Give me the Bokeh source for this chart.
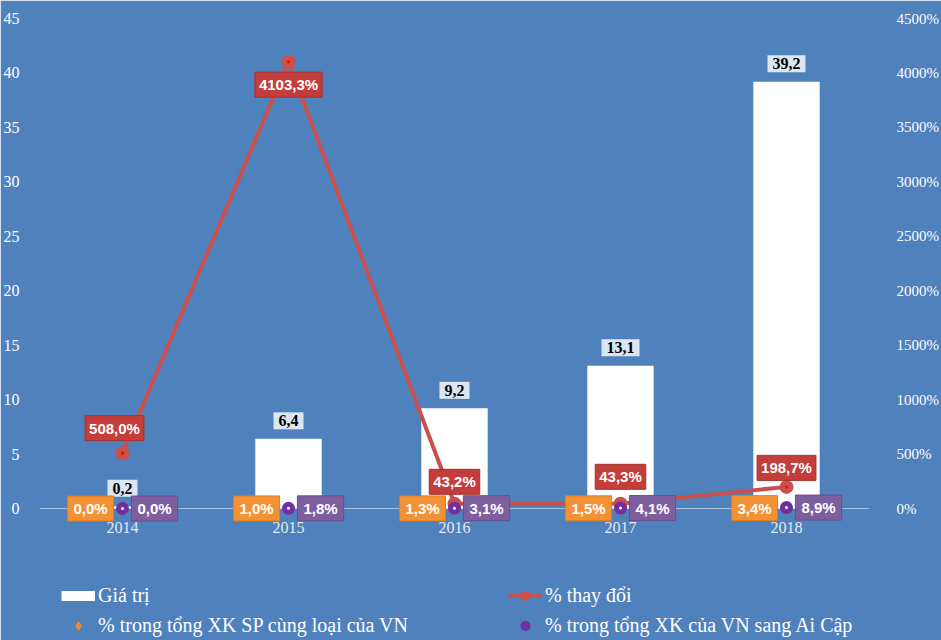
import numpy as np
from bokeh.plotting import figure
from bokeh.models import (ColumnDataSource, Range1d, LinearAxis, FixedTicker,
                          PrintfTickFormatter, Legend, LegendItem, Span)
from bokeh.embed import file_html
from bokeh.resources import INLINE
from bokeh.core.properties import value

# ---------------- data ----------------
years = ["2014", "2015", "2016", "2017", "2018"]
gia_tri = [0.2, 6.4, 9.2, 13.1, 39.2]                 # value (left axis)
thay_doi = [508.0, 4103.3, 43.2, 43.3, 198.7]         # % change (right axis)
pct_cung_loai = [0.0, 1.0, 1.3, 1.5, 3.4]             # % in VN exports of same product
pct_ai_cap = [0.0, 1.8, 3.1, 4.1, 8.9]                # % in VN exports to Egypt
left_ticks = [0, 5, 10, 15, 20, 25, 30, 35, 40, 45]
right_ticks = [0, 500, 1000, 1500, 2000, 2500, 3000, 3500, 4000, 4500]

legend_labels = ["Giá trị", "% thay đổi",
                 "% trong tổng XK SP cùng loại của VN",
                 "% trong tổng XK của VN sang Ai Cập"]


def fmt(v, pct=False):
    return f"{v:.1f}".replace(".", ",") + ("%" if pct else "")


BG = "#4F81BD"
SERIF = "Liberation Serif"
SANS = "Liberation Sans"

# frame spans the full lower part so the legend (inside the frame) is not clipped
p = figure(width=941, height=640, x_range=years, y_range=Range1d(-12.12, 45),
           output_backend="svg", toolbar_location=None,
           min_border_left=38, min_border_right=69, min_border_top=18,
           min_border_bottom=0, background_fill_color=BG,
           border_fill_color=BG, outline_line_color=BG, outline_line_width=2)
p.extra_y_ranges = {"pct": Range1d(-1212, 4500)}

p.xgrid.grid_line_color = None
p.ygrid.grid_line_color = None
p.xaxis.visible = False

ya = p.yaxis[0]
ya.ticker = FixedTicker(ticks=left_ticks)
ya.axis_line_color = None
ya.major_tick_line_color = None
ya.minor_tick_line_color = None
ya.major_label_standoff = 14
ya.major_label_text_font = SERIF
ya.major_label_text_font_size = "16px"
ya.major_label_text_color = "white"

ra = LinearAxis(y_range_name="pct", ticker=FixedTicker(ticks=right_ticks),
                formatter=PrintfTickFormatter(format="%d%%"))
ra.axis_line_color = None
ra.major_tick_line_color = None
ra.minor_tick_line_color = None
ra.major_label_standoff = 21
ra.major_label_text_font = SERIF
ra.major_label_text_font_size = "15px"
ra.major_label_text_color = "white"
p.add_layout(ra, "right")

# zero (category) line
p.add_layout(Span(location=0, dimension="width", line_color="#A9C3E3",
                  line_width=1, level="underlay"))

# category labels under the zero line
p.text(x=years, y=[0] * len(years), text=years, y_offset=19,
       text_align="center", text_baseline="middle", text_font=value(SERIF),
       text_font_size="16px", text_color="#E3E9F1")

# bars
bars = p.vbar(x=years, top=gia_tri, width=0.4, bottom=0,
              fill_color="white", line_color=None)
# legend swatch for the bars (flat white bar, like the reference); draws nothing in the plot
bar_key = p.line(x=years, y=np.full(len(years), np.nan), line_color="white",
                 line_width=10, line_cap="butt")

# % change line
line = p.line(x=years, y=thay_doi, line_color="#C9504D", line_width=4,
              y_range_name="pct")
rc = p.scatter(x=years, y=thay_doi, size=14, fill_color="#C9504D",
               line_color=None, y_range_name="pct")
rd = p.scatter(x=years, y=thay_doi, size=3, fill_color="#FF0000",
               line_color=None, y_range_name="pct")

# orange diamonds and purple circles
od = p.scatter(x=years, y=pct_cung_loai, marker="diamond", size=13,
               fill_color="#F0892C", line_color=None, y_range_name="pct")
pc = p.scatter(x=years, y=pct_ai_cap, size=13, fill_color="#7030A0",
               line_color=None, y_range_name="pct")
pw = p.scatter(x=years, y=pct_ai_cap, size=3, fill_color="white",
               line_color=None, y_range_name="pct")

# data labels
p.text(x=years, y=gia_tri, text=[fmt(v) for v in gia_tri], y_offset=-18,
       text_align="center", text_baseline="middle",
       text_font=value(SERIF), text_font_style="bold", text_font_size="16px",
       text_color="black", background_fill_color="#DCE6F2", padding=(5, 3))

red_src = ColumnDataSource(dict(x=years, y=thay_doi,
                                t=[fmt(v, True) for v in thay_doi],
                                dx=[-8, 0, 0, 0, 0],
                                dy=[-25, 23, -22, -27, -19]))
p.text(x="x", y="y", text="t", x_offset="dx", y_offset="dy", source=red_src,
       y_range_name="pct", text_align="center", text_baseline="middle",
       text_font=value(SANS), text_font_style="bold", text_font_size="15px",
       text_color="white", background_fill_color="#C33D3A",
       border_line_color="#A8302D", padding=(4, 4))

p.text(x=years, y=pct_cung_loai, text=[fmt(v, True) for v in pct_cung_loai],
       x_offset=-32, y_range_name="pct", text_align="center",
       text_baseline="middle", text_font=value(SANS), text_font_style="bold",
       text_font_size="15px", text_color="white",
       background_fill_color="#F39234", border_line_color="#E07B20",
       padding=(6, 4))

p.text(x=years, y=pct_ai_cap, text=[fmt(v, True) for v in pct_ai_cap],
       x_offset=32, y_range_name="pct", text_align="center",
       text_baseline="middle", text_font=value(SANS), text_font_style="bold",
       text_font_size="15px", text_color="white",
       background_fill_color="#7D5FA0", border_line_color="#6A4E8C",
       padding=(6, 4))

# legend is filled column by column: left column first, then right column
legend = Legend(items=[
    LegendItem(label=legend_labels[0], renderers=[bar_key]),
    LegendItem(label=legend_labels[2], renderers=[od]),
    LegendItem(label=legend_labels[1], renderers=[line, rc]),
    LegendItem(label=legend_labels[3], renderers=[pc]),
], ncols=2, location=(22, 2), padding=0, margin=0, spacing=5,
    glyph_width=34, glyph_height=25, label_height=20, label_standoff=3,
    label_width=405, background_fill_alpha=0, border_line_color=None,
    label_text_font=SERIF, label_text_font_size="20px",
    label_text_color="white")
p.add_layout(legend)

open("out.html", "w").write(file_html(p, INLINE))
